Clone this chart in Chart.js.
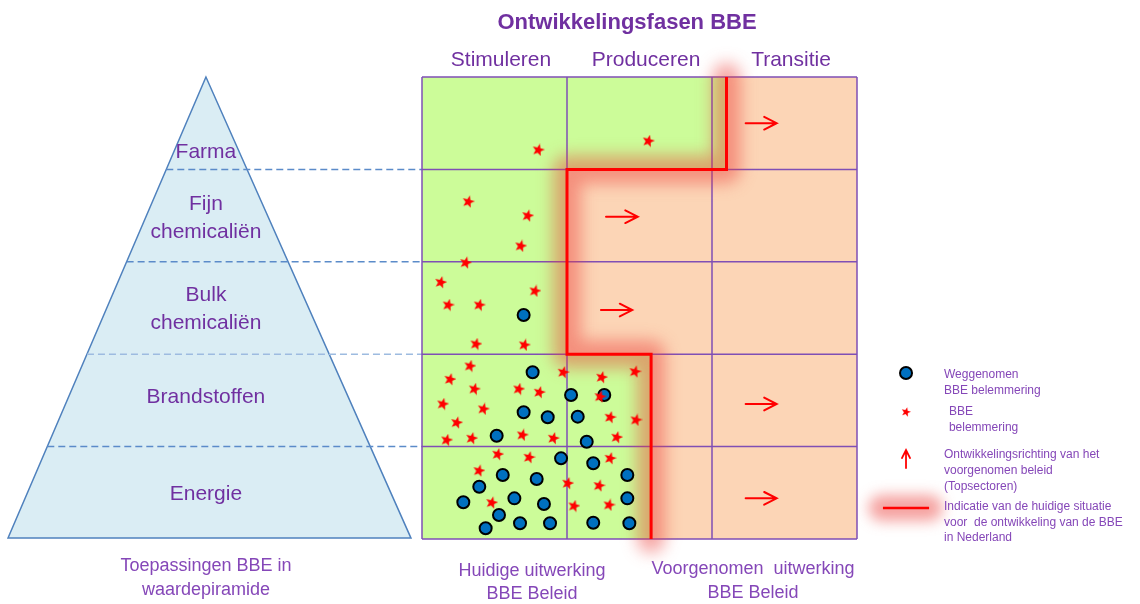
<!DOCTYPE html>
<html><head><meta charset="utf-8">
<script src="https://cdn.jsdelivr.net/npm/chart.js@4.4.1/dist/chart.umd.min.js"></script>
<style>html,body{margin:0;padding:0;background:#fff;overflow:hidden}canvas{display:block}</style>
</head><body><canvas id="c" width="1140" height="604"></canvas>
<script>
// ---------- DATA (x: column units 0..3, y: row units 0..5 from bottom) ----------
const title = 'Ontwikkelingsfasen BBE';
const phases = ['Stimuleren', 'Produceren', 'Transitie'];
const levels = [['Energie'], ['Brandstoffen'], ['Bulk', 'chemicaliën'], ['Fijn', 'chemicaliën'], ['Farma']];
const pyramidCaption = ['Toepassingen BBE in', 'waardepiramide'];
const currentCaption = ['Huidige uitwerking', 'BBE Beleid'];
const plannedCaption = ['Voorgenomen  uitwerking', 'BBE Beleid'];
const legendLabels = [
  ['Weggenomen', 'BBE belemmering'],
  ['BBE', 'belemmering'],
  ['Ontwikkelingsrichting van het', 'voorgenomen beleid', '(Topsectoren)'],
  ['Indicatie van de huidige situatie', 'voor  de ontwikkeling van de BBE', 'in Nederland']
];

// green (current) extent per row, Energie..Farma
const greenExtent = [1.58, 1.58, 1.0, 1.0, 2.10];
// current-situation boundary line
const boundaryX = [2.10, 2.10, 1.0, 1.0, 1.58, 1.58];
const boundaryY = [5, 4, 4, 2, 2, 0];

// BBE belemmering (stars)
const starX = [0.802, 1.561, 0.319, 0.729, 0.681, 0.301, 0.129, 0.779, 0.181, 0.395, 0.372, 0.706,
  0.331, 0.193, 0.974, 1.239, 1.469, 0.361, 0.667, 0.809, 0.143, 0.423, 1.228, 1.297, 1.476, 0.239,
  0.170, 0.343, 0.692, 0.906, 1.343,
  0.522, 0.738, 1.297, 0.393, 1.005, 1.221, 0.481, 1.048, 1.290];
const starY = [4.210, 4.307, 3.650, 3.499, 3.171, 2.990, 2.778, 2.684, 2.532, 2.532, 2.110, 2.100,
  1.872, 1.728, 1.804, 1.750, 1.811, 1.623, 1.623, 1.588, 1.461, 1.407, 1.540, 1.317, 1.288, 1.259,
  1.071, 1.090, 1.126, 1.090, 1.101,
  0.917, 0.884, 0.873, 0.739, 0.603, 0.577, 0.393, 0.357, 0.368];

// Weggenomen belemmering (circles)
const circleX = [0.701, 0.763, 1.028, 1.257, 0.701, 0.867, 1.074, 0.515, 1.136,
  0.959, 1.181, 0.557, 1.416, 0.395, 0.791, 0.285, 0.637, 0.841, 1.416, 0.531, 0.439, 0.676, 0.883, 1.181, 1.430];
const circleY = [2.424, 1.804, 1.558, 1.558, 1.371, 1.317, 1.324, 1.118, 1.053,
  0.873, 0.819, 0.693, 0.693, 0.566, 0.649, 0.397, 0.440, 0.379, 0.440, 0.260, 0.116, 0.170, 0.170, 0.176, 0.170];

// development direction arrows
const arrowStartX = [2.232, 1.269, 1.234, 2.232, 2.232];
const arrowEndX   = [2.446, 1.488, 1.450, 2.446, 2.446];
const arrowY      = [4.500, 3.488, 2.478, 1.461, 0.440];

// pyramid (apex, base left, base right)
const pyramidX = [-1.490, -2.855, -0.076];
const pyramidY = [5, 0.01, 0.01];

// ---------- LAYOUT / STYLE ----------
const FONT = '"Liberation Sans", Arial, sans-serif';
const PURPLE = '#7030A0';
const LEGEND_PURPLE = '#8547B8';
const GREEN = '#CCFC99';
const PEACH = '#FCD5B6';
const GRIDLINE = '#7F4FB5';
const levelLabelY = [0.487, 1.537, 2.49, 3.474, 4.19];
const xMin = -422 / 145, xMax = (1140 - 422) / 145;
const yMin = -(604 - 539) / 92.4, yMax = 539 / 92.4;

function makeStar(size, color) {
  const c = document.createElement('canvas');
  c.width = c.height = size;
  const g = c.getContext('2d');
  const R = size / 2, r = R * 0.42, rot = 0.25;
  g.beginPath();
  for (let i = 0; i < 10; i++) {
    const a = -Math.PI / 2 + rot + i * Math.PI / 5;
    const rad = i % 2 ? r : R;
    g.lineTo(R + rad * Math.cos(a), R + rad * Math.sin(a));
  }
  g.closePath();
  g.fillStyle = color;
  g.fill();
  return c;
}
const starImg = makeStar(13, '#FF0000');
const starLegendImg = makeStar(10, '#FF0000');

function arrow(ctx, x0, y0, x1, y1, head, lw) {
  const a = Math.atan2(y1 - y0, x1 - x0);
  ctx.save();
  ctx.strokeStyle = '#FF0000';
  ctx.lineWidth = lw;
  ctx.lineCap = 'round';
  ctx.beginPath();
  ctx.moveTo(x0, y0); ctx.lineTo(x1, y1);
  ctx.moveTo(x1 - head * Math.cos(a - 0.47), y1 - head * Math.sin(a - 0.47));
  ctx.lineTo(x1, y1);
  ctx.lineTo(x1 - head * Math.cos(a + 0.47), y1 - head * Math.sin(a + 0.47));
  ctx.stroke();
  ctx.restore();
}

function text(ctx, lines, x, y, size, color, align, lh, bold) {
  ctx.save();
  ctx.font = (bold ? 'bold ' : '') + size + 'px ' + FONT;
  ctx.fillStyle = color;
  ctx.textAlign = align;
  ctx.textBaseline = 'middle';
  lines.forEach((l, i) => ctx.fillText(l, x, y + i * lh));
  ctx.restore();
}

const backdrop = {
  id: 'backdrop',
  beforeDatasetsDraw(chart) {
    const ctx = chart.ctx, X = v => chart.scales.x.getPixelForValue(v), Y = v => chart.scales.y.getPixelForValue(v);
    // pyramid
    ctx.save();
    ctx.beginPath();
    pyramidX.forEach((px, i) => ctx.lineTo(X(px), Y(pyramidY[i])));
    ctx.closePath();
    ctx.fillStyle = '#DAEDF4';
    ctx.fill();
    ctx.strokeStyle = '#4F81BD';
    ctx.lineWidth = 1.5;
    ctx.stroke();
    // dashed level separators
    ctx.setLineDash([7, 4]);
    for (let r = 1; r < levels.length; r++) {
      const t = (pyramidY[0] - r) / (pyramidY[0] - pyramidY[1]);
      const xl = pyramidX[0] + t * (pyramidX[1] - pyramidX[0]);
      ctx.strokeStyle = r === 2 ? '#9DBBE0' : '#5B8BC9';
      ctx.beginPath();
      ctx.moveTo(X(xl), Y(r)); ctx.lineTo(X(0), Y(r));
      ctx.stroke();
    }
    ctx.restore();
    // cell fills
    ctx.save();
    for (let r = 0; r < levels.length; r++) {
      ctx.fillStyle = PEACH;
      ctx.fillRect(X(0), Y(r + 1), X(phases.length) - X(0), Y(r) - Y(r + 1));
      ctx.fillStyle = GREEN;
      ctx.fillRect(X(0), Y(r + 1), X(greenExtent[r]) - X(0), Y(r) - Y(r + 1));
    }
    // grid
    ctx.strokeStyle = GRIDLINE;
    ctx.lineWidth = 1.5;
    ctx.beginPath();
    for (let c = 0; c <= phases.length; c++) { ctx.moveTo(X(c), Y(0)); ctx.lineTo(X(c), Y(levels.length)); }
    for (let r = 0; r <= levels.length; r++) { ctx.moveTo(X(0), Y(r)); ctx.lineTo(X(phases.length), Y(r)); }
    ctx.stroke();
    // glow
    ctx.filter = 'blur(8px)';
    ctx.strokeStyle = 'rgba(236,60,55,0.45)';
    ctx.lineWidth = 28;
    ctx.lineJoin = 'round';
    ctx.lineCap = 'round';
    ctx.beginPath();
    boundaryX.forEach((bx, i) => ctx.lineTo(X(bx), Y(boundaryY[i])));
    ctx.stroke();
    // legend glow
    ctx.filter = 'blur(7px)';
    ctx.strokeStyle = 'rgba(236,70,65,0.5)';
    ctx.lineWidth = 26;
    ctx.beginPath();
    ctx.moveTo(X(3.17), Y(0.335)); ctx.lineTo(X(3.50), Y(0.335));
    ctx.stroke();
    ctx.filter = 'none';
    // red boundary line
    ctx.strokeStyle = '#FF0000';
    ctx.lineWidth = 3;
    ctx.lineJoin = 'miter';
    ctx.lineCap = 'butt';
    ctx.beginPath();
    boundaryX.forEach((bx, i) => ctx.lineTo(X(bx), Y(boundaryY[i])));
    ctx.stroke();
    // legend line
    ctx.lineWidth = 2.5;
    ctx.beginPath();
    ctx.moveTo(X(3.179), Y(0.335)); ctx.lineTo(X(3.497), Y(0.335));
    ctx.stroke();
    ctx.restore();
  },
  afterDatasetsDraw(chart) {
    const ctx = chart.ctx, X = v => chart.scales.x.getPixelForValue(v), Y = v => chart.scales.y.getPixelForValue(v);
    // arrows
    arrowStartX.forEach((x0, i) => arrow(ctx, X(x0), Y(arrowY[i]), X(arrowEndX[i]), Y(arrowY[i]), 14, 2));
    // legend
    ctx.save();
    ctx.beginPath();
    ctx.arc(X(3.338), Y(1.797), 6, 0, Math.PI * 2);
    ctx.fillStyle = '#0070C0'; ctx.fill();
    ctx.lineWidth = 2; ctx.strokeStyle = '#000'; ctx.stroke();
    ctx.drawImage(starLegendImg, X(3.338) - 5, Y(1.374) - 5);
    ctx.restore();
    arrow(ctx, X(3.338), Y(0.768), X(3.338), Y(0.963), 9, 1.8);
    text(ctx, legendLabels[0], X(3.60), Y(1.775), 12, LEGEND_PURPLE, 'left', 15.5);
    text(ctx, legendLabels[1], X(3.634), Y(1.374), 12, LEGEND_PURPLE, 'left', 16);
    text(ctx, legendLabels[2], X(3.60), Y(0.909), 12, LEGEND_PURPLE, 'left', 16);
    text(ctx, legendLabels[3], X(3.60), Y(0.346), 12, LEGEND_PURPLE, 'left', 15.5);
    // titles
    text(ctx, [title], X(1.414), Y(5.584), 22, PURPLE, 'center', 0, true);
    phases.forEach((p, c) => text(ctx, [p], X(c + 0.545), Y(5.184), 21, PURPLE, 'center', 0));
    // pyramid labels
    levels.forEach((l, r) => {
      const y0 = Y(levelLabelY[r]) - (l.length - 1) * 14;
      text(ctx, l, X(pyramidX[0]), y0, 21, PURPLE, 'center', 28);
    });
    text(ctx, pyramidCaption, X(pyramidX[0]), Y(-0.292), 18, LEGEND_PURPLE, 'center', 24);
    text(ctx, currentCaption, X(0.759), Y(-0.346), 18, LEGEND_PURPLE, 'center', 23);
    text(ctx, plannedCaption, X(2.283), Y(-0.32), 18, LEGEND_PURPLE, 'center', 24);
  }
};

new Chart(document.getElementById('c'), {
  type: 'scatter',
  data: {
    datasets: [
      {
        label: 'BBE belemmering',
        data: starX.map((x, i) => ({ x, y: starY[i] })),
        pointStyle: starImg,
        pointRadius: 6
      },
      {
        label: 'Weggenomen BBE belemmering',
        data: circleX.map((x, i) => ({ x, y: circleY[i] })),
        pointStyle: 'circle',
        pointRadius: 6,
        backgroundColor: '#0070C0',
        borderColor: '#000000',
        borderWidth: 2
      }
    ]
  },
  options: {
    responsive: false,
    animation: false,
    devicePixelRatio: 1,
    layout: { padding: 0, autoPadding: false },
    plugins: { legend: { display: false }, tooltip: { enabled: false } },
    events: [],
    scales: {
      x: { type: 'linear', min: xMin, max: xMax, display: false },
      y: { type: 'linear', min: yMin, max: yMax, display: false }
    }
  },
  plugins: [backdrop]
});
</script></body></html>
